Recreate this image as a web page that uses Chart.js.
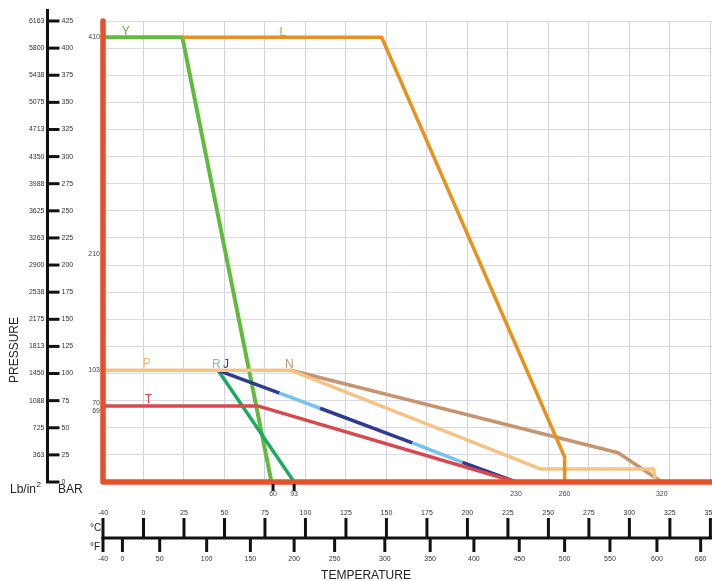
<!DOCTYPE html>
<html>
<head>
<meta charset="utf-8">
<script src="https://cdn.jsdelivr.net/npm/chart.js@4"></script>
<style>
  html, body { margin: 0; padding: 0; background: #fff; }
  #wrap { width: 712px; height: 581px; position: relative; }
</style>
</head>
<body>
<div id="wrap"><canvas id="myChart"></canvas></div>
<script>
'use strict';

// chart values (x = temperature on the plot scale in °C, y = pressure in BAR)
const yTemps = [-25, 24, 79];
const yPress = [410, 410, 0];
const lTemps = [24, 147, 260, 260];
const lPress = [410, 410, 23, 0];
const pTemps = [-25, 91, 245, 315, 316];
const pPress = [103, 103, 12, 12, 0];
const nTemps = [91, 293, 320];
const nPress = [103, 27, 0];
const rjTemps = [46, 84, 109, 166, 197, 230];
const rjPress = [103, 82, 68, 36, 18, 0];
const greenTemps = [46, 93];
const greenPress = [103, 0];
const tTemps = [-25, 71, 230];
const tPress = [70, 70, 0];

// line names and where they are written
const lineNames = ['Y', 'L', 'P', 'R', 'J', 'N', 'T'];
const nameTemps = [-11, 86, 2, 45, 51, 90, 3];
const namePress = [412, 411, 106, 105, 105, 105, 73];

// pressure axis
const barTicks = [0, 25, 50, 75, 100, 125, 150, 175, 200, 225, 250, 275, 300, 325, 350, 375, 400, 425];
const psiTicks = ['', '363', '725', '1088', '1450', '1813', '2175', '2538', '2900', '3263', '3625', '3988', '4350', '4713', '5075', '5438', '5800', '6163'];
const pressMarks = [410, 210, 103, 70, 69];

// temperature axis
const celsiusLabels = ['-40', '0', '25', '50', '75', '100', '125', '150', '175', '200', '225', '250', '275', '300', '325', '350'];
const celsiusAt = [-25, 0, 25, 50, 75, 100, 125, 150, 175, 200, 225, 250, 275, 300, 325, 350];
const fahrenheitLabels = ['-40', '0', '50', '100', '150', '200', '250', '300', '350', '400', '450', '500', '550', '600', '660'];
const fahrenheitAt = [-25, -13, 10, 39, 66, 93, 118, 149, 177, 204, 232, 260, 288, 317, 344];
const tempMarks = ['60', '93', '230', '260', '320'];
const tempMarksAt = [80, 93, 230, 260, 320];

const gridT = [-25, 0, 25, 50, 75, 100, 125, 150, 175, 200, 225, 250, 275, 300, 325, 350];

function pts(xs, ys) {
    return xs.map(function (v, i) { return { x: v, y: ys[i] }; });
}

const nameColors = ['#5cb53c', '#e8921e', '#f4b877', '#6ec3ea', '#2f3b8f', '#c49570', '#d8484e'];
const FONT = '"Liberation Sans", Arial, sans-serif';

const decor = {
    id: 'decor',
    afterDatasetsDraw(chart) {
        const ctx = chart.ctx;
        const a = chart.chartArea;
        const x = chart.scales.x;
        const y = chart.scales.y;
        ctx.save();

        // red frame
        ctx.strokeStyle = '#e5512b';
        ctx.lineWidth = 5.5;
        ctx.lineCap = 'round';
        ctx.lineJoin = 'round';
        ctx.beginPath();
        ctx.moveTo(a.left, a.top);
        ctx.lineTo(a.left, a.bottom);
        ctx.lineTo(a.right + 5, a.bottom);
        ctx.stroke();

        // line names
        ctx.font = '12px ' + FONT;
        ctx.textAlign = 'center';
        ctx.textBaseline = 'alphabetic';
        lineNames.forEach(function (n, i) {
            ctx.fillStyle = nameColors[i];
            ctx.fillText(n, x.getPixelForValue(nameTemps[i]), y.getPixelForValue(namePress[i]));
        });

        // small pressure marks on the frame
        ctx.fillStyle = '#444';
        ctx.font = '7px ' + FONT;
        ctx.textAlign = 'right';
        ctx.textBaseline = 'middle';
        pressMarks.forEach(function (v, i) {
            let py = y.getPixelForValue(v);
            if (v === 70) py -= 3;
            if (v === 69) py += 4;
            ctx.fillText(String(v), a.left - 3, py);
        });

        // temperature marks under the frame
        ctx.textAlign = 'center';
        ctx.textBaseline = 'top';
        tempMarks.forEach(function (t, i) {
            const px = x.getPixelForValue(tempMarksAt[i]);
            if (i < 2) {
                ctx.fillStyle = '#111';
                ctx.fillRect(px - 1.5, a.bottom + 2, 3, 7);
            }
            ctx.fillStyle = '#444';
            ctx.fillText(t, px, a.bottom + 9);
        });

        // pressure axis
        const ax = 47.5;
        ctx.strokeStyle = '#111';
        ctx.lineWidth = 3;
        ctx.lineCap = 'butt';
        ctx.beginPath();
        ctx.moveTo(ax, y.getPixelForValue(425) - 12);
        ctx.lineTo(ax, y.getPixelForValue(0) + 1);
        ctx.stroke();
        ctx.font = '7px ' + FONT;
        ctx.textBaseline = 'middle';
        barTicks.forEach(function (v, i) {
            const py = y.getPixelForValue(v);
            ctx.beginPath();
            ctx.moveTo(ax - 1.5, py);
            ctx.lineTo(ax + 12, py);
            ctx.stroke();
            ctx.fillStyle = '#333';
            ctx.textAlign = 'left';
            ctx.fillText(String(v), ax + 14, py);
            ctx.textAlign = 'right';
            ctx.fillText(psiTicks[i], ax - 3, py);
        });
        ctx.font = '12px ' + FONT;
        ctx.fillStyle = '#222';
        ctx.textAlign = 'left';
        ctx.textBaseline = 'middle';
        ctx.fillText('Lb/in', 10, 490);
        const w = ctx.measureText('Lb/in').width;
        ctx.font = '8px ' + FONT;
        ctx.fillText('2', 10 + w + 0.5, 485);
        ctx.font = '12px ' + FONT;
        ctx.fillText('BAR', 58, 490);

        ctx.save();
        ctx.translate(15, 350);
        ctx.rotate(-Math.PI / 2);
        ctx.textAlign = 'center';
        ctx.font = '12px ' + FONT;
        ctx.fillText('PRESSURE', 0, 0);
        ctx.restore();

        // temperature axis
        const base = 538;
        ctx.lineWidth = 3;
        ctx.beginPath();
        ctx.moveTo(x.getPixelForValue(-25) - 1.5, base);
        ctx.lineTo(a.right, base);
        ctx.stroke();
        ctx.font = '7px ' + FONT;
        ctx.textAlign = 'center';
        ctx.fillStyle = '#333';
        celsiusAt.forEach(function (v, i) {
            const px = x.getPixelForValue(v);
            ctx.beginPath();
            ctx.moveTo(px, base);
            ctx.lineTo(px, base - 20);
            ctx.stroke();
            ctx.fillText(celsiusLabels[i], px, base - 25);
        });
        fahrenheitAt.forEach(function (v, i) {
            const px = x.getPixelForValue(v);
            ctx.beginPath();
            ctx.moveTo(px, base);
            ctx.lineTo(px, base + 14);
            ctx.stroke();
            ctx.fillText(fahrenheitLabels[i], px, base + 21);
        });
        ctx.font = '10px ' + FONT;
        ctx.fillStyle = '#222';
        ctx.textAlign = 'left';
        ctx.fillText('°C', 90, base - 10);
        ctx.fillText('°F', 90, base + 9);
        ctx.font = '12px ' + FONT;
        ctx.textAlign = 'center';
        ctx.fillText('TEMPERATURE', 366, 576);

        ctx.restore();
    }
};

const ctx = document.getElementById('myChart').getContext('2d');

const myChart = new Chart(ctx, {
    type: 'scatter',
    data: {
        datasets: [
            { data: pts(lTemps, lPress), borderColor: '#e8921e', borderWidth: 3.5 },
            { data: pts(pTemps, pPress), borderColor: '#f6c383', borderWidth: 3.5 },
            { data: pts(nTemps, nPress), borderColor: '#c49570', borderWidth: 3.5 },
            { data: pts(tTemps, tPress), borderColor: '#d8484e', borderWidth: 3.5 },
            {
                data: pts(rjTemps, rjPress), borderWidth: 3.5, borderColor: '#2f3b8f',
                segment: {
                    borderColor: function (c) { return c.p0DataIndex % 2 ? '#74c3ea' : '#2f3b8f'; }
                }
            },
            { data: pts(greenTemps, greenPress), borderColor: '#1fa866', borderWidth: 3.5 },
            { data: pts(yTemps, yPress), borderColor: '#62ba3e', borderWidth: 4 }
        ]
    },
    plugins: [decor],
    options: {
        responsive: true,
        maintainAspectRatio: false,
        animation: false,
        showLine: true,
        elements: {
            point: { radius: 0, hoverRadius: 0 },
            line: { borderJoinStyle: 'round', capBezierPoints: false, tension: 0 }
        },
        layout: { padding: { left: 103, right: 0, top: 21, bottom: 99 } },
        plugins: {
            legend: { display: false },
            tooltip: { enabled: false }
        },
        scales: {
            x: {
                type: 'linear',
                min: -25,
                max: 351,
                afterBuildTicks: function (s) { s.ticks = gridT.map(function (v) { return { value: v }; }); },
                afterFit: function (s) { s.height = 0; },
                ticks: { display: false },
                border: { display: false },
                grid: { color: '#d3d2e2', lineWidth: 1, drawTicks: false }
            },
            y: {
                type: 'linear',
                min: 0,
                max: 425,
                afterBuildTicks: function (s) { s.ticks = barTicks.map(function (v) { return { value: v }; }); },
                afterFit: function (s) { s.width = 0; },
                ticks: { display: false },
                border: { display: false },
                grid: { color: '#d9d9e3', lineWidth: 1, drawTicks: false }
            }
        }
    }
});
</script>
</body>
</html>
